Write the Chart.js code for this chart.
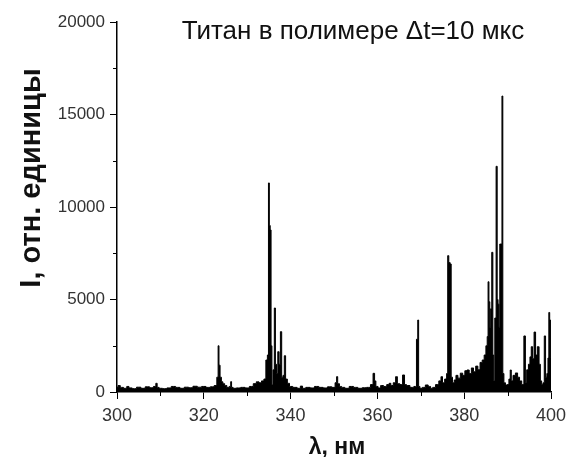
<!DOCTYPE html>
<html>
<head>
<meta charset="utf-8">
<script src="https://cdn.jsdelivr.net/npm/chart.js@4"></script>
<style>
  html, body { margin: 0; padding: 0; background: #fff; }
  #wrap { width: 570px; height: 457px; }
</style>
</head>
<body>
<div id="wrap"><canvas id="chart" width="570" height="457"></canvas></div>
<script>
// wavelength, nm
const wavelength = [
  300.0, 300.5, 301.0, 302.0, 302.5, 303.0, 304.0, 305.0, 306.0, 307.0, 308.0, 308.8, 309.1, 309.4,
  310.0, 311.0, 312.0, 313.0, 314.0, 315.0, 316.0, 317.0, 318.0, 319.0, 320.0, 321.0, 322.0, 322.8,
  323.2, 323.4, 323.6, 323.9, 324.2, 324.6, 325.0, 325.6, 326.1, 326.3, 326.5, 327.0, 328.0, 329.0,
  330.0, 331.0, 331.8, 332.4, 333.0, 333.6, 334.1, 334.5, 334.8, 335.0, 335.2, 335.4, 335.6, 335.8,
  336.1, 336.4, 336.6, 336.9, 337.2, 337.5, 337.8, 338.1, 338.4, 338.7, 339.0, 339.5, 340.0, 341.0,
  342.0, 342.5, 343.0, 344.0, 345.0, 346.0, 347.0, 348.0, 349.0, 350.0, 350.5, 350.7, 351.0, 351.5,
  352.0, 353.0, 354.0, 355.0, 356.0, 357.0, 358.0, 358.8, 359.2, 359.5, 359.8, 360.5, 361.0, 361.8,
  362.5, 362.9, 363.3, 364.0, 364.4, 364.8, 365.5, 366.1, 366.4, 367.0, 368.0, 368.8, 369.2, 369.4,
  369.6, 370.0, 370.7, 371.4, 372.0, 372.5, 373.0, 373.8, 374.5, 374.8, 375.2, 375.8, 376.1, 376.3,
  376.6, 376.9, 377.1, 377.5, 377.9, 378.3, 378.8, 379.4, 379.9, 380.4, 380.9, 381.4, 381.9, 382.4,
  382.9, 383.4, 383.9, 384.4, 384.8, 385.2, 385.4, 385.6, 385.8, 386.0, 386.2, 386.5, 386.7, 386.9,
  387.2, 387.5, 387.7, 387.9, 388.1, 388.3, 388.6, 388.8, 389.0, 389.3, 389.7, 390.1, 390.5, 390.7,
  391.0, 391.5, 392.1, 392.5, 393.0, 393.5, 394.0, 394.2, 394.6, 395.0, 395.3, 395.6, 395.9, 396.3,
  396.6, 397.1, 397.4, 397.7, 398.0, 398.3, 398.6, 398.9, 399.2, 399.4, 399.6, 399.8, 400.0
];

// intensity, rel. units
const intensity = [
  250, 350, 250, 200, 300, 220, 180, 260, 200, 280, 230, 300, 470, 250,
  200, 180, 220, 300, 250, 200, 260, 230, 310, 260, 300, 250, 280, 350,
  800, 2500, 1450, 800, 550, 450, 350, 250, 300, 560, 250, 200, 220, 250,
  220, 300, 450, 550, 500, 600, 700, 1730, 2000, 11300, 9000, 8760, 2500, 380,
  1200, 4540, 1500, 1000, 2180, 1500, 3260, 800, 900, 1960, 700, 470, 300, 250,
  200, 320, 200, 250, 220, 300, 250, 220, 280, 250, 500, 830, 450, 300,
  250, 200, 300, 250, 200, 230, 250, 400, 1010, 600, 300, 220, 350, 300,
  400, 470, 350, 500, 830, 450, 400, 920, 400, 350, 250, 300, 2850, 3890,
  300, 200, 250, 380, 300, 200, 250, 400, 600, 830, 500, 700, 1000, 7370,
  7000, 6920, 800, 500, 650, 900, 750, 1020, 900, 1150, 1190, 1000, 1300, 1100,
  1400, 1200, 1600, 1730, 2000, 2500, 3000, 5960, 4880, 3500, 4500, 7550, 2000, 600,
  4000, 12200, 5000, 4750, 3500, 8000, 8000, 16000, 1000, 500, 380, 400, 700, 1190,
  600, 900, 1030, 800, 600, 400, 3030, 500, 1200, 1500, 1900, 2450, 1800, 3240,
  2000, 2450, 1500, 600, 400, 500, 3030, 800, 1000, 1840, 4300, 3890, 1840
];

const xTicks = [300, 320, 340, 360, 380, 400];
const yTicks = [0, 5000, 10000, 15000, 20000];
const xMinor = [310, 330, 350, 370, 390];
const yMinor = [2500, 7500, 12500, 17500];

const chartTitle = 'Титан в полимере Δt=10 мкс';
const xTitle = 'λ, нм';
const yTitle = 'I, отн. единицы';

const points = wavelength.map((x, i) => ({ x: x, y: intensity[i] }));

const FONT = '"Liberation Sans", Arial, sans-serif';

// minor ticks and titles drawn over the chart
const decorPlugin = {
  id: 'decor',
  afterDraw(chart) {
    const ctx = chart.ctx;
    const xs = chart.scales.x;
    const ys = chart.scales.y;
    const area = chart.chartArea;
    ctx.save();
    ctx.strokeStyle = '#000';
    ctx.lineWidth = 1;
    ctx.beginPath();
    xMinor.forEach(v => {
      const px = Math.round(xs.getPixelForValue(v)) + 0.5;
      ctx.moveTo(px, area.bottom);
      ctx.lineTo(px, area.bottom + 4);
    });
    yMinor.forEach(v => {
      const py = Math.round(ys.getPixelForValue(v)) + 0.5;
      ctx.moveTo(area.left, py);
      ctx.lineTo(area.left - 4, py);
    });
    ctx.stroke();

    ctx.fillStyle = '#111';
    ctx.textAlign = 'center';
    ctx.textBaseline = 'alphabetic';
    ctx.font = '26px ' + FONT;
    ctx.fillText(chartTitle, 353, 39);

    ctx.font = 'bold 23px ' + FONT;
    ctx.fillText(xTitle, 337, 454);

    ctx.translate(40, 178);
    ctx.rotate(-Math.PI / 2);
    ctx.font = 'bold 29px ' + FONT;
    ctx.fillText(yTitle, 0, 0);
    ctx.restore();
  }
};

new Chart(document.getElementById('chart'), {
  type: 'line',
  data: {
    datasets: [{
      data: points,
      borderColor: '#000',
      backgroundColor: '#000',
      borderWidth: 1,
      fill: 'origin',
      pointRadius: 0,
      stepped: 'middle'
    }]
  },
  options: {
    responsive: false,
    animation: false,
    layout: { padding: { top: 22, right: 19, left: 0, bottom: 0 } },
    plugins: { legend: { display: false }, tooltip: { enabled: false } },
    scales: {
      x: {
        type: 'linear',
        min: 300,
        max: 400,
        afterFit: scale => {
          scale.height = 65;
          scale.paddingLeft = 0;
          scale.paddingRight = 0;
        },
        afterBuildTicks: scale => { scale.ticks = xTicks.map(v => ({ value: v })); },
        grid: { drawOnChartArea: false, tickLength: 7, color: '#000', tickWidth: 1 },
        border: { color: '#000', width: 1.5 },
        ticks: {
          color: '#333', font: { family: FONT, size: 18 }, padding: 6, maxRotation: 0,
          callback: v => String(v)
        }
      },
      y: {
        min: 0,
        max: 20000,
        afterFit: scale => {
          scale.width = 117;
          scale.paddingTop = 0;
          scale.paddingBottom = 0;
        },
        afterBuildTicks: scale => { scale.ticks = yTicks.map(v => ({ value: v })); },
        grid: { drawOnChartArea: false, tickLength: 7, color: '#000', tickWidth: 1 },
        border: { color: '#000', width: 1.5 },
        ticks: {
          color: '#333', font: { family: FONT, size: 17 }, padding: 5,
          callback: v => String(v)
        }
      }
    }
  },
  plugins: [decorPlugin]
});
</script>
</body>
</html>
